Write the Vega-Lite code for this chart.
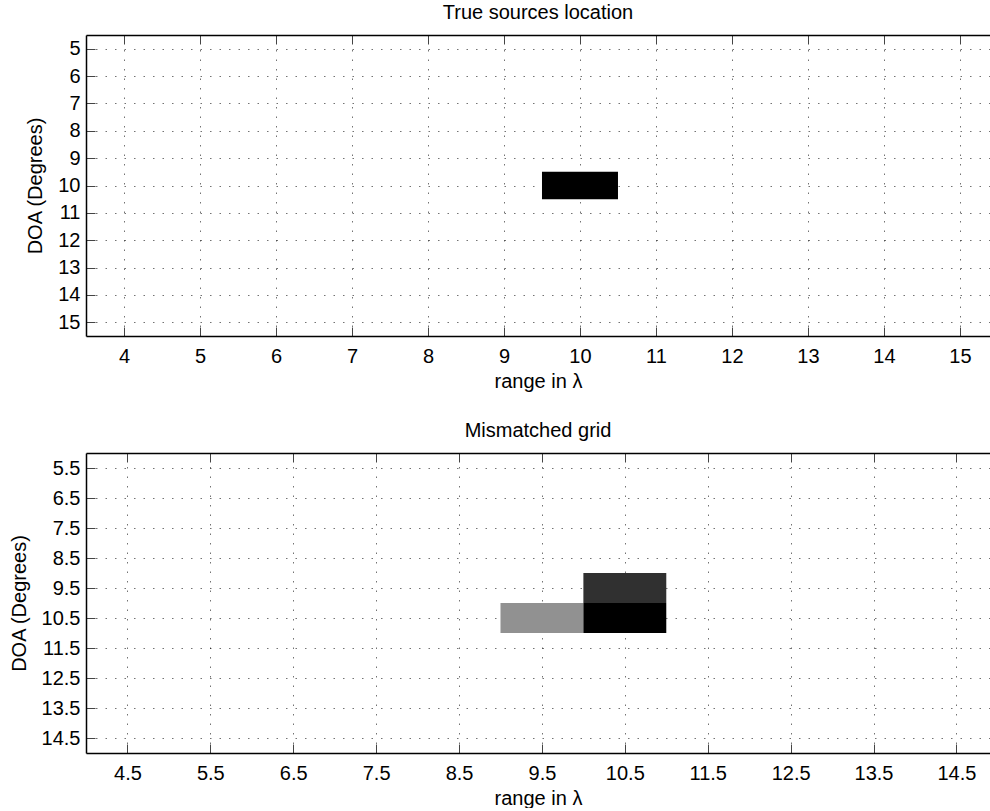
{
  "$schema": "https://vega.github.io/schema/vega-lite/v6.json",
  "padding": {"left": 9, "top": 2, "right": 0, "bottom": 0},
  "spacing": 29,
  "config": {
    "font": "Liberation Sans",
    "view": {"stroke": null},
    "axis": {
      "labelFontSize": 20,
      "labelColor": "#000",
      "labelFont": "Liberation Sans",
      "labelOverlap": false,
      "titleFontSize": 20,
      "titleFontWeight": "normal",
      "titleColor": "#000",
      "titleFont": "Liberation Sans",
      "domainColor": "#000",
      "domainWidth": 1.5,
      "tickColor": "#444",
      "tickSize": -9,
      "tickWidth": 1,
      "gridColor": "#000",
      "gridOpacity": 0.55,
      "gridDash": [1.5, 8],
      "gridWidth": 1,
      "zindex": 1
    },
    "axisX": {"labelPadding": 19, "titlePadding": 5},
    "axisY": {"labelPadding": 15, "titlePadding": 12},
    "title": {"fontSize": 20, "fontWeight": "normal", "color": "#000", "font": "Liberation Sans", "offset": 12}
  },
  "vconcat": [
    {
      "title": "True sources location",
      "width": 904,
      "height": 301,
      "data": {"values": [{"x": 9.5, "x2": 10.5, "y": 9.5, "y2": 10.5, "v": 1}]},
      "layer": [
        {
          "mark": "rect",
          "encoding": {
            "x": {"field": "x", "type": "quantitative", "scale": {"domain": [3.5, 15.395], "nice": false, "zero": false},
                  "axis": {"orient": "bottom", "values": [4,5,6,7,8,9,10,11,12,13,14,15], "title": "range in λ", "grid": true, "labelOverlap": false}},
            "x2": {"field": "x2"},
            "y": {"field": "y", "type": "quantitative", "scale": {"domain": [4.5, 15.5], "nice": false, "zero": false, "reverse": true},
                  "axis": {"values": [5,6,7,8,9,10,11,12,13,14,15], "title": "DOA (Degrees)", "grid": true, "labelOverlap": false, "labelSeparation": 0}},
            "y2": {"field": "y2"},
            "color": {"field": "v", "type": "quantitative", "scale": {"domain": [0, 1], "range": ["#ffffff", "#000000"]}, "legend": null}
          }
        },
        {
          "mark": {"type": "rect", "opacity": 0},
          "encoding": {
            "x": {"field": "x", "type": "quantitative",
                  "axis": {"orient": "top", "values": [4,5,6,7,8,9,10,11,12,13,14,15], "labels": false, "title": null, "grid": false}},
            "x2": {"field": "x2"}
          }
        }
      ],
      "resolve": {"axis": {"x": "independent"}}
    },
    {
      "title": "Mismatched grid",
      "width": 904,
      "height": 300,
      "data": {"values": [
        {"x": 9, "x2": 10, "y": 10, "y2": 11, "v": 0.4},
        {"x": 10, "x2": 11, "y": 9, "y2": 10, "v": 0.8},
        {"x": 10, "x2": 11, "y": 10, "y2": 11, "v": 1}
      ]},
      "layer": [
        {
          "mark": "rect",
          "encoding": {
            "x": {"field": "x", "type": "quantitative", "scale": {"domain": [4, 14.905], "nice": false, "zero": false},
                  "axis": {"orient": "bottom", "values": [4.5,5.5,6.5,7.5,8.5,9.5,10.5,11.5,12.5,13.5,14.5], "format": ".1f", "title": "range in λ", "grid": true, "labelOverlap": false}},
            "x2": {"field": "x2"},
            "y": {"field": "y", "type": "quantitative", "scale": {"domain": [5, 15], "nice": false, "zero": false, "reverse": true},
                  "axis": {"values": [5.5,6.5,7.5,8.5,9.5,10.5,11.5,12.5,13.5,14.5], "format": ".1f", "title": "DOA (Degrees)", "grid": true, "labelOverlap": false, "labelSeparation": 0}},
            "y2": {"field": "y2"},
            "color": {"field": "v", "type": "quantitative", "scale": {"domain": [0, 1], "range": ["#ffffff", "#000000"]}, "legend": null}
          }
        },
        {
          "mark": {"type": "rect", "opacity": 0},
          "encoding": {
            "x": {"field": "x", "type": "quantitative",
                  "axis": {"orient": "top", "values": [4.5,5.5,6.5,7.5,8.5,9.5,10.5,11.5,12.5,13.5,14.5], "labels": false, "title": null, "grid": false}},
            "x2": {"field": "x2"}
          }
        }
      ],
      "resolve": {"axis": {"x": "independent"}}
    }
  ]
}
